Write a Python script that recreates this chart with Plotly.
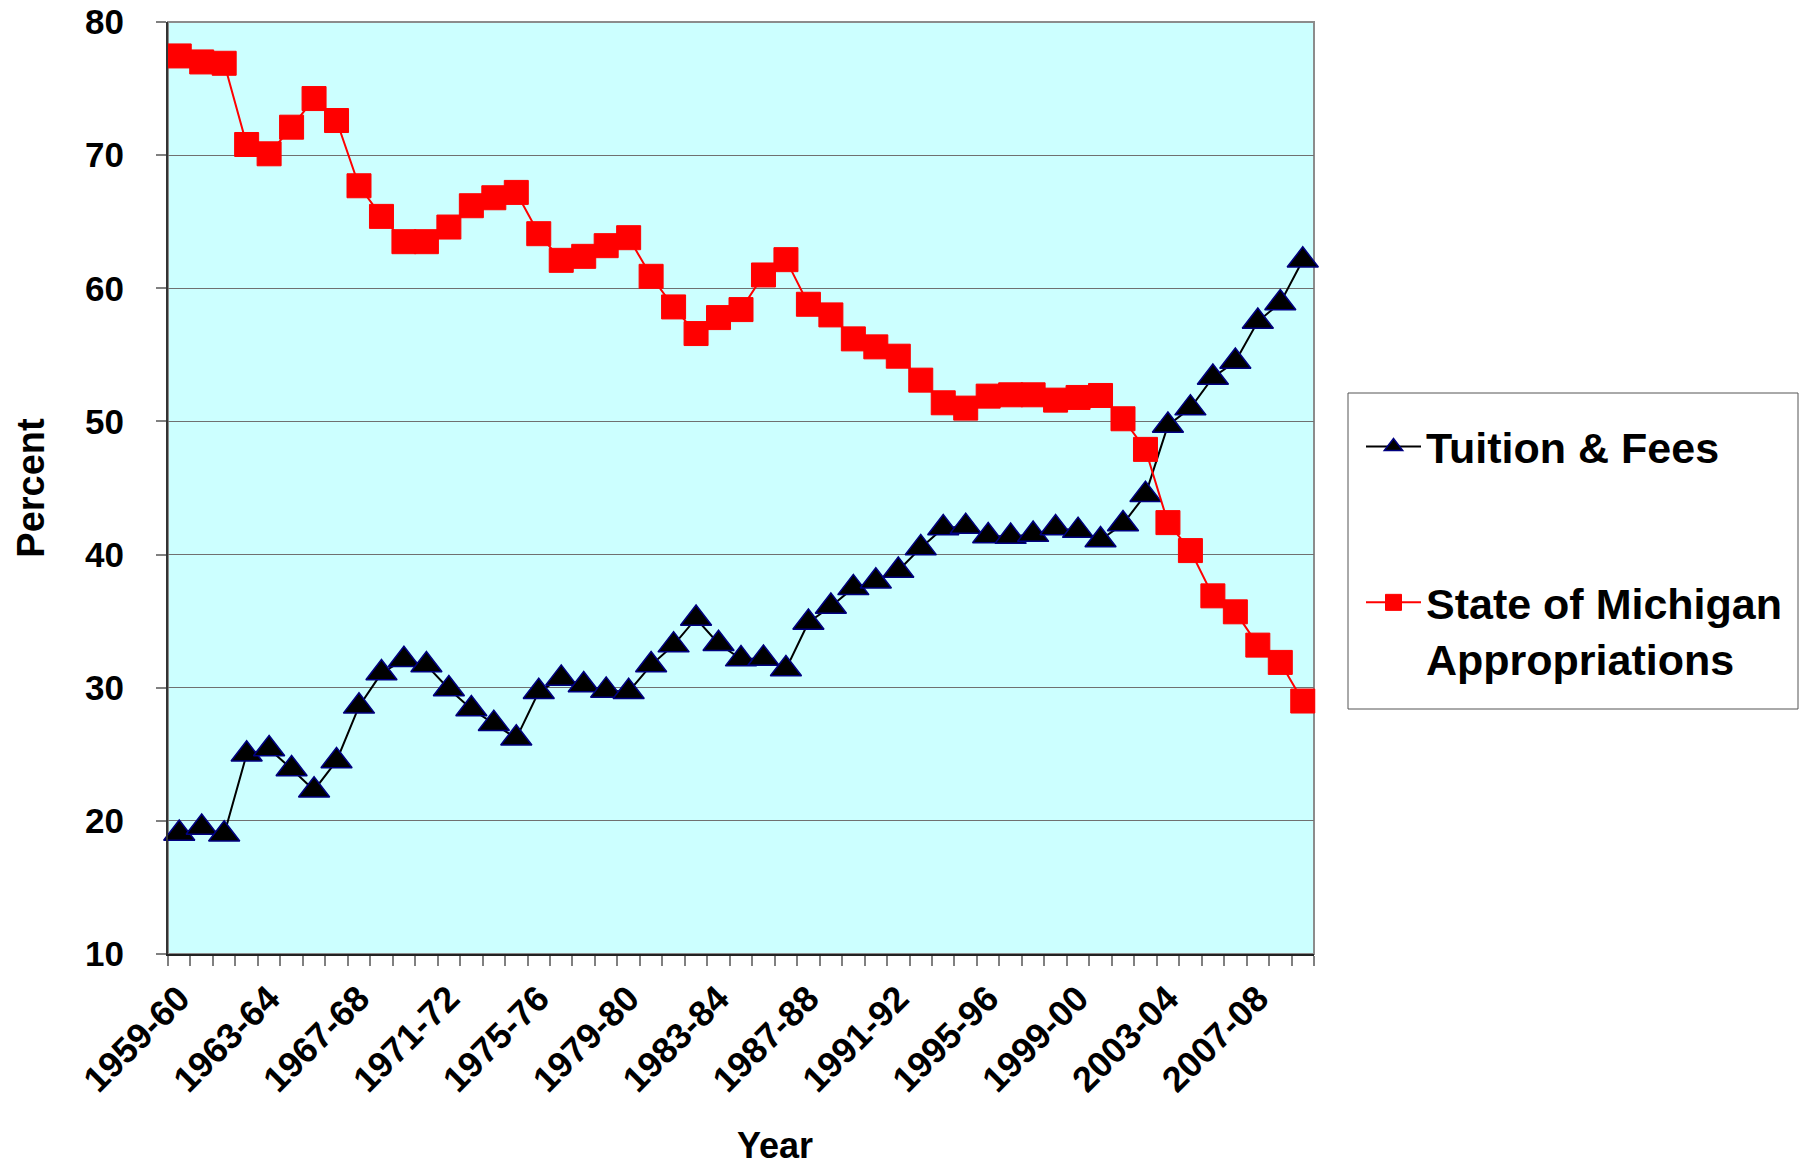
import plotly.graph_objects as go

years = ["1959-60", "1960-61", "1961-62", "1962-63", "1963-64", "1964-65", "1965-66",
         "1966-67", "1967-68", "1968-69", "1969-70", "1970-71", "1971-72", "1972-73",
         "1973-74", "1974-75", "1975-76", "1976-77", "1977-78", "1978-79", "1979-80",
         "1980-81", "1981-82", "1982-83", "1983-84", "1984-85", "1985-86", "1986-87",
         "1987-88", "1988-89", "1989-90", "1990-91", "1991-92", "1992-93", "1993-94",
         "1994-95", "1995-96", "1996-97", "1997-98", "1998-99", "1999-00", "2000-01",
         "2001-02", "2002-03", "2003-04", "2004-05", "2005-06", "2006-07", "2007-08",
         "2008-09", "2009-10"]

tuition_fees = [19.05, 19.5, 19.0, 25.0, 25.4, 23.9, 22.3, 24.5, 28.6, 31.1,
                32.1, 31.7, 29.9, 28.4, 27.3, 26.2, 29.7, 30.7, 30.2, 29.8,
                29.7, 31.7, 33.2, 35.2, 33.3, 32.15, 32.2, 31.4, 34.9, 36.1,
                37.5, 38.0, 38.8, 40.5, 42.0, 42.1, 41.4, 41.35, 41.5, 42.0,
                41.8, 41.1, 42.3, 44.5, 49.7, 51.0, 53.3, 54.5, 57.5, 58.9, 62.1]

state_appropriations = [77.45, 77.0, 76.9, 70.8, 70.1, 72.1, 74.25, 72.6, 67.7, 65.4,
                        63.5, 63.5, 64.6, 66.2, 66.8, 67.2, 64.1, 62.1, 62.4, 63.2,
                        63.8, 60.9, 58.6, 56.6, 57.8, 58.4, 61.0, 62.15, 58.8, 58.0,
                        56.2, 55.6, 54.9, 53.1, 51.4, 51.0, 51.9, 52.0, 52.0, 51.6,
                        51.8, 51.95, 50.2, 47.9, 42.4, 40.3, 36.9, 35.7, 33.2, 31.9, 29.0]

y_ticks = [10, 20, 30, 40, 50, 60, 70, 80]
label_step = 4

x_idx = list(range(len(years)))
FONT = "Liberation Sans, Arial, Helvetica, sans-serif"

fig = go.Figure()
fig.add_trace(go.Scatter(
    x=x_idx, y=tuition_fees, mode="lines+markers", name="Tuition & Fees",
    legendgroup="a",
    line=dict(color="black", width=2),
    marker=dict(symbol="triangle-up", size=27, color="black",
                line=dict(color="#000080", width=1.5)),
    cliponaxis=False,
))
fig.add_trace(go.Scatter(
    x=x_idx, y=state_appropriations, mode="lines+markers",
    name="State of Michigan<br>Appropriations",
    legendgroup="b",
    line=dict(color="#FF0000", width=2),
    marker=dict(symbol="square", size=24, color="#FF0000",
                line=dict(color="#FF0000", width=1)),
    cliponaxis=False,
))

W, H = 1807, 1165
L, T = 168, 22
R = W - 1314
B = H - 954
pw, ph = W - L - R, H - T - B

def px(sx):
    return (sx - L) / pw

def py(sy):
    return (T + ph - sy) / ph

fig.update_layout(
    width=W, height=H,
    margin=dict(l=L, r=R, t=T, b=B, autoexpand=False),
    paper_bgcolor="white",
    plot_bgcolor="#CCFFFF",
    font=dict(family=FONT, color="black"),
    showlegend=True,
    legend=dict(
        x=px(1361), y=py(412), xanchor="left", yanchor="top",
        font=dict(family=FONT, size=43, color="black", weight="bold"),
        bgcolor="rgba(0,0,0,0)", borderwidth=0,
        itemwidth=55, tracegroupgap=97, valign="top",
        traceorder="grouped",
    ),
    xaxis=dict(
        range=[-0.5, len(years) - 0.5],
        automargin=False,
        tickmode="array",
        tickvals=x_idx[::label_step],
        ticktext=years[::label_step],
        tickangle=-45,
        tickfont=dict(family=FONT, size=36, color="black", weight="bold"),
        ticks="outside", ticklen=7, tickcolor="rgba(0,0,0,0)",
        ticklabeloverflow="allow",
        minor=dict(tick0=0.5, dtick=1, ticks="outside", ticklen=10,
                   tickcolor="#808080", tickwidth=1.5, showgrid=False),
        showgrid=False, zeroline=False,
        showline=True, linecolor="#222222", linewidth=2,
    ),
    yaxis=dict(
        range=[10, 80],
        automargin=False,
        tickmode="array", tickvals=y_ticks,
        tickfont=dict(family=FONT, size=35, color="black", weight="bold"),
        ticks="outside", ticklen=10, tickcolor="#808080", tickwidth=1.5,
        ticklabelstandoff=25,
        ticklabeloverflow="allow",
        showgrid=True, gridcolor="#707070", gridwidth=1.2,
        zeroline=False,
        showline=True, linecolor="#333333", linewidth=2,
        title=dict(text="Percent", standoff=29,
                   font=dict(family=FONT, size=38, color="black", weight="bold")),
    ),
    shapes=[
        dict(type="rect", xref="paper", yref="paper", x0=0, x1=1, y0=0, y1=1,
             line=dict(color="#8C8C8C", width=2), layer="below"),
        dict(type="rect", xref="paper", yref="paper",
             x0=px(1348), x1=px(1798), y0=py(709), y1=py(393),
             line=dict(color="#555555", width=1)),
    ],
    annotations=[
        dict(text="Year", xref="paper", yref="paper", x=px(775), y=py(1145),
             xanchor="center", yanchor="middle", showarrow=False,
             font=dict(family=FONT, size=36, color="black", weight="bold")),
    ],
)

fig.write_html("out.html",
               config={"displayModeBar": False},
               post_script="document.body.style.margin='0';document.body.style.overflow='hidden';")
